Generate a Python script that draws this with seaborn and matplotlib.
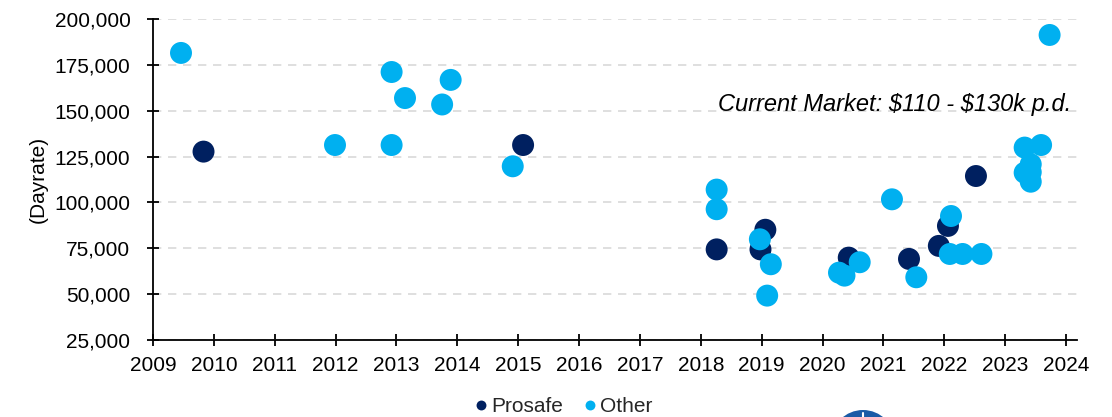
import matplotlib
matplotlib.use("Agg")
import matplotlib.pyplot as plt
import seaborn as sns
import pandas as pd
from matplotlib.patches import Ellipse
from matplotlib.lines import Line2D
from matplotlib.ticker import FuncFormatter

# ---- data ----
prosafe_year = [2009.83, 2015.08, 2018.26, 2019.06, 2018.98, 2020.43, 2021.42, 2021.91, 2022.06, 2022.52]
prosafe_rate = [127700, 131300, 74400, 85100, 74400, 69900, 69200, 76300, 87200, 114400]

other_year = [2009.46, 2011.99, 2012.92, 2012.92, 2013.14, 2013.75, 2013.89, 2014.91,
              2018.26, 2018.26, 2018.97, 2019.15, 2019.09,
              2020.27, 2020.36, 2020.61, 2021.14, 2021.54,
              2022.11, 2022.09, 2022.30, 2022.61,
              2023.32, 2023.59, 2023.42, 2023.32, 2023.42, 2023.42, 2023.73]
other_rate = [181500, 131300, 171100, 131300, 156900, 153400, 166800, 119700,
              107000, 96300, 79900, 66300, 49200,
              61700, 60100, 67400, 101700, 59200,
              92600, 71900, 71900, 71900,
              129900, 131300, 120800, 116200, 111300, 116500, 191300]

groups = ["Prosafe", "Other"]
colors = {"Prosafe": "#002060", "Other": "#00B0F0"}

x_ticks = list(range(2009, 2025))
y_ticks = [25000, 50000, 75000, 100000, 125000, 150000, 175000, 200000]
annotation = r"Current Market: \$110 - \$130k p.d."

df = pd.DataFrame({
    "year": prosafe_year + other_year,
    "rate": prosafe_rate + other_rate,
    "group": ["Prosafe"] * len(prosafe_year) + ["Other"] * len(other_year),
})

sns.set_theme(style="white")
plt.rcParams["font.family"] = ["Liberation Sans", "DejaVu Sans"]

FS = 15

fig = plt.figure(figsize=(11.12, 4.17), dpi=100)
ax = fig.add_axes([153 / 1112, 1 - 340 / 417, (1077 - 153) / 1112, (340 - 19) / 417])

sns.scatterplot(data=df, x="year", y="rate", hue="group", hue_order=groups,
                palette=colors, s=250, linewidth=0, alpha=1, ax=ax, zorder=3)

ax.set_xlim(2009, 2024.18)
ax.set_ylim(25000, 200000)
ax.set_xticks(x_ticks)
ax.set_yticks(y_ticks)
ax.yaxis.set_major_formatter(FuncFormatter(lambda v, p: f"{int(v):,}"))
ax.set_xlabel("")
ax.set_ylabel("(Dayrate)", fontsize=FS, color="#000000", labelpad=5)

ax.grid(axis="y", color="#D9D9D9", linestyle=(0, (5, 4)), linewidth=1.2, zorder=0)
ax.grid(axis="x", visible=False)
for s in ["top", "right"]:
    ax.spines[s].set_visible(False)
for s in ["left", "bottom"]:
    ax.spines[s].set_color("#000000")
    ax.spines[s].set_linewidth(1.3)
ax.tick_params(axis="both", which="major", bottom=True, left=True, direction="inout",
               length=8.5, width=1.3, colors="#000000", labelsize=FS)
ax.tick_params(axis="y", pad=12)
ax.tick_params(axis="x", pad=7)

ax.text(0.994, 0.735, annotation, transform=ax.transAxes, ha="right", va="center",
        fontsize=17, style="italic", color="#000000")

handles, labels = ax.get_legend_handles_labels()
ax.legend(handles, labels, loc="center", bbox_to_anchor=(0.505, 0.024),
          bbox_transform=fig.transFigure, ncol=2, frameon=False, fontsize=FS,
          markerscale=0.45, handletextpad=0.0, columnspacing=0.8, handlelength=1.0,
          borderpad=0, borderaxespad=0)

# partial company logo at the bottom edge
logo = Ellipse((863 / 1112, 1 - 442 / 417), 64 / 1112, 64 / 417, transform=fig.transFigure,
               facecolor="#1A5BA6", edgecolor="none", clip_on=False)
fig.add_artist(logo)
fig.add_artist(Line2D([863 / 1112, 863 / 1112], [1 - 413 / 417, 0], transform=fig.transFigure,
                      color="white", linewidth=1.5))

fig.savefig("out.png", dpi=100)
